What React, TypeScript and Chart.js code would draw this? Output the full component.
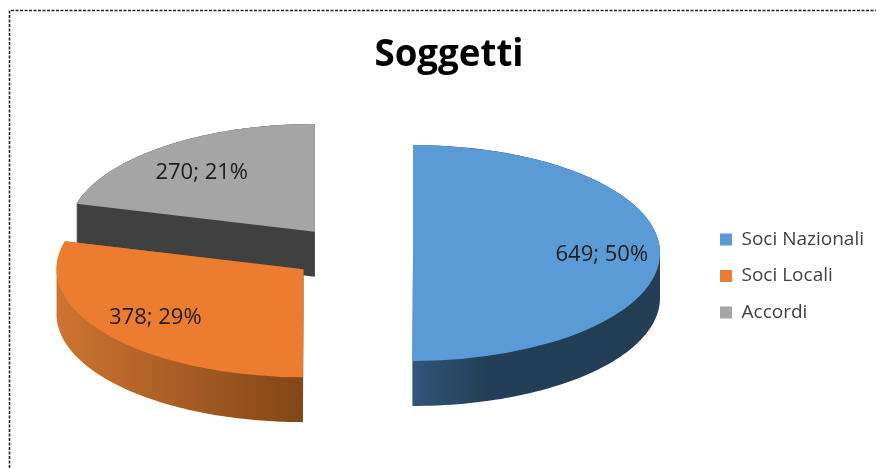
import React, { useEffect, useRef } from "react";
import { Chart, registerables } from "chart.js";

Chart.register(...registerables);

const titleText = "Soggetti";
const categories = ["Soci Nazionali", "Soci Locali", "Accordi"];
const values = [649, 378, 270];
const percents = [50, 29, 21];
const topColors = ["#5b9bd5", "#ec7c30", "#a5a5a5"];

const FONT = "'Open Sans', sans-serif";
const CX = 352;
const CY = 253;
const RADIUS = 247;
const TILT = 0.437;
const DEPTH = 45;
const EXPLODE = 61;
const LABEL_NUDGE = [
  [6, 2],
  [-3, 0],
  [-2, 4],
];

const wallFill = (ctx: CanvasRenderingContext2D, i: number) => {
  if (i === 0) {
    const g = ctx.createLinearGradient(413, 0, 660, 0);
    g.addColorStop(0, "#31567a");
    g.addColorStop(0.3, "#233f57");
    g.addColorStop(1, "#223d54");
    return g;
  }
  if (i === 1) {
    const g = ctx.createLinearGradient(57, 0, 303, 0);
    g.addColorStop(0, "#cf7430");
    g.addColorStop(1, "#824618");
    return g;
  }
  return "#404040";
};

const pie3d = {
  id: "pie3d",
  beforeDraw(chart: any) {
    const { ctx } = chart;
    ctx.save();
    ctx.strokeStyle = "#222222";
    ctx.lineWidth = 1.6;
    ctx.setLineDash([3, 1.5]);
    ctx.beginPath();
    ctx.moveTo(9.5, 468);
    ctx.lineTo(9.5, 10.5);
    ctx.lineTo(876, 10.5);
    ctx.stroke();
    ctx.restore();
  },
  // The library's arcs are drawn here, each moved out along its own mid angle and tilted.
  beforeDatasetDraw(chart: any) {
    const { ctx } = chart;
    const arcs = chart.getDatasetMeta(0).data;
    for (let i = arcs.length - 1; i >= 0; i--) {
      const { startAngle, endAngle } = arcs[i].getProps(["startAngle", "endAngle"], true);
      const mid = (startAngle + endAngle) / 2;
      const sx = CX + Math.cos(mid) * EXPLODE;
      const sy = CY + Math.sin(mid) * EXPLODE * TILT;
      ctx.save();
      ctx.beginPath();
      for (let d = 0; d <= DEPTH; d++) {
        ctx.moveTo(sx, sy + d);
        for (let s = 0; s <= 120; s++) {
          const a = startAngle + ((endAngle - startAngle) * s) / 120;
          ctx.lineTo(sx + RADIUS * Math.cos(a), sy + d + RADIUS * TILT * Math.sin(a));
        }
        ctx.closePath();
      }
      ctx.fillStyle = wallFill(ctx, i);
      ctx.fill("nonzero");
      ctx.restore();
    }
    arcs.forEach((arc: any) => {
      const { x, y, startAngle, endAngle } = arc.getProps(["x", "y", "startAngle", "endAngle"], true);
      const mid = (startAngle + endAngle) / 2;
      ctx.save();
      ctx.translate(CX + Math.cos(mid) * EXPLODE, CY + Math.sin(mid) * EXPLODE * TILT);
      ctx.scale(1, TILT);
      ctx.translate(-x, -y);
      arc.draw(ctx);
      ctx.restore();
    });
    return false;
  },
  afterDatasetsDraw(chart: any) {
    const { ctx } = chart;
    const arcs = chart.getDatasetMeta(0).data;
    ctx.save();
    ctx.font = `22px ${FONT}`;
    ctx.fillStyle = "#1c1c1c";
    ctx.textAlign = "center";
    ctx.textBaseline = "middle";
    arcs.forEach((arc: any, i: number) => {
      const { startAngle, endAngle } = arc.getProps(["startAngle", "endAngle"], true);
      const mid = (startAngle + endAngle) / 2;
      const r = EXPLODE + RADIUS * 0.74;
      ctx.fillText(
        `${values[i]}; ${percents[i]}%`,
        CX + LABEL_NUDGE[i][0] + Math.cos(mid) * r,
        CY + LABEL_NUDGE[i][1] + Math.sin(mid) * r * TILT
      );
    });
    ctx.restore();
  },
};

export default function App() {
  const ref = useRef<HTMLCanvasElement>(null);
  useEffect(() => {
    const chart = new Chart(ref.current as HTMLCanvasElement, {
      type: "pie",
      data: {
        labels: categories,
        datasets: [
          {
            data: values,
            backgroundColor: topColors,
            borderWidth: 0,
          } as any,
        ],
      },
      options: {
        responsive: false,
        animation: false,
        radius: RADIUS,
        layout: { padding: { left: 24, right: 2, top: 84, bottom: 0 } },
        plugins: {
          tooltip: { enabled: false },
          title: {
            display: true,
            text: titleText,
            color: "#000000",
            font: { family: FONT, size: 36.7, weight: "bold" },
            padding: { top: -50, bottom: 6 },
          },
          legend: {
            position: "right",
            labels: {
              boxWidth: 12,
              boxHeight: 12,
              padding: 17.5,
              color: "#404040",
              font: { family: FONT, size: 19 },
            },
          },
        },
      } as any,
      plugins: [pie3d],
    });
    return () => chart.destroy();
  }, []);
  return (
    <div style={{ position: "absolute", left: 0, top: 0, width: 876, height: 468, background: "#fff" }}>
      <canvas ref={ref} width={876} height={468} style={{ display: "block" }} />
    </div>
  );
}
